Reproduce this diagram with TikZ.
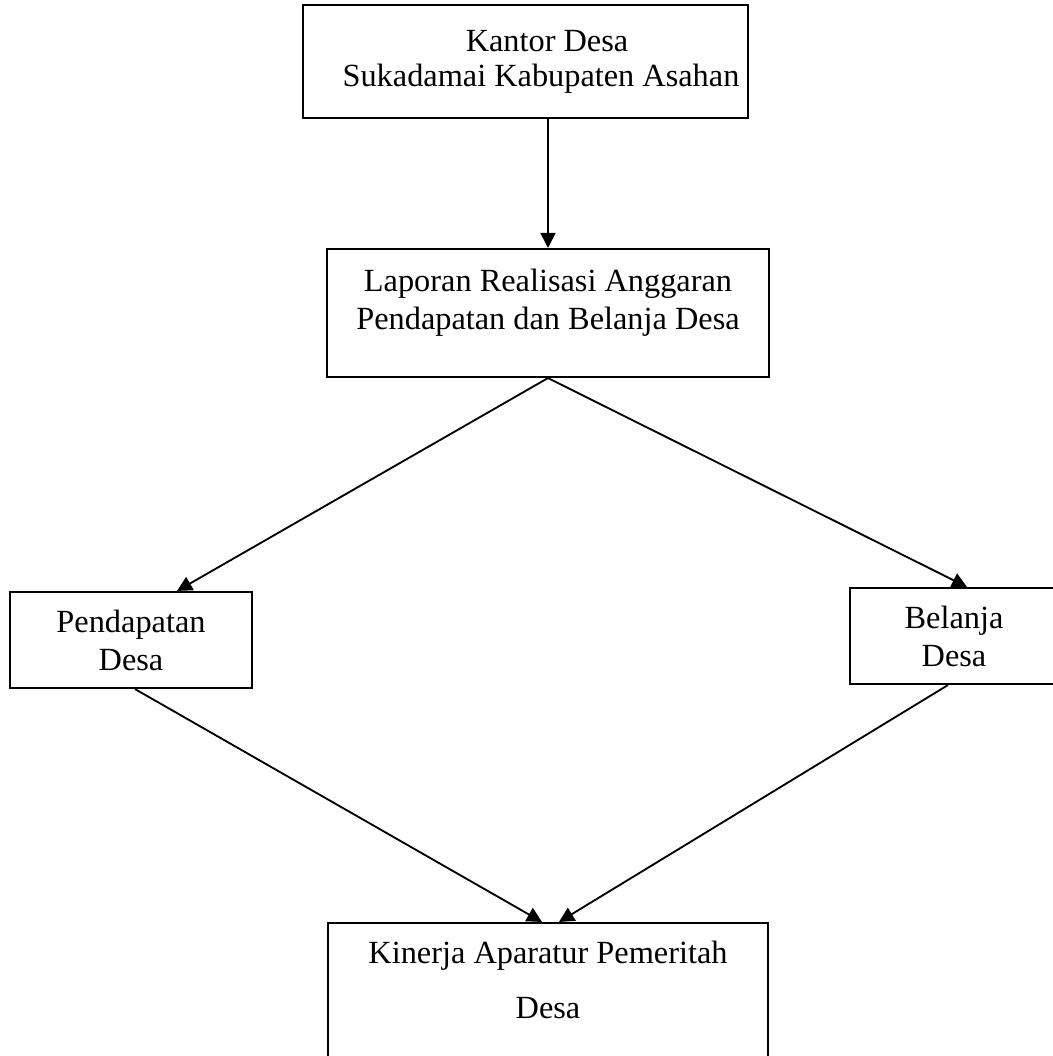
\documentclass[tikz,border=0pt]{standalone}
\usepackage{fontspec}
\setmainfont{Liberation Serif}
\usetikzlibrary{arrows.meta,calc}

\begin{document}
\begin{tikzpicture}[x=.02cm,y=-.02cm,
  box/.style={draw,line width=1.2pt,inner sep=0},
  txt/.style={anchor=north,inner sep=0,align=center,font=\fontsize{18.4}{21.5}\selectfont},
  arr/.style={-{Triangle[length=.3cm,width=.3cm]},line width=1.05pt}]
  \useasboundingbox (0,0) rectangle (1053,1056);
  \clip (0,0) rectangle (1053,1056);
  % boxes
  \node[box,minimum width=8.9cm,minimum height=2.26cm] (kantor) at (525.5,61.5) {};
  \node[box,minimum width=8.84cm,minimum height=2.56cm] (lra) at (548,313) {};
  \node[box,minimum width=4.84cm,minimum height=1.92cm] (pend) at (131,640) {};
  \node[box,minimum width=4.12cm,minimum height=1.92cm] (bel) at (953,636) {};
  \node[box,minimum width=8.8cm,minimum height=2.8cm] (kin) at (548,993) {};
  % texts
  \node[txt,font=\fontsize{18.4}{20}\selectfont] (kantortxt) at (541,30) {\hspace*{.24cm}Kantor Desa\\Sukadamai Kabupaten Asahan};
  \node[txt] (lratxt) at (548,269) {Laporan Realisasi Anggaran\\Pendapatan dan Belanja Desa};
  \node[txt] (pendtxt) at (131,610) {Pendapatan\\Desa};
  \node[txt] (beltxt) at (954,606) {Belanja\\Desa};
  \node[txt,font=\fontsize{18.4}{31}\selectfont] (kintxt) at (548,941) {Kinerja Aparatur Pemeritah\\Desa};
  % arrows
  \draw[arr] (kantor.south -| lra.north) -- (lra.north);
  \draw[arr] (lra.south) -- ($(pend.north)+(46,0)$);
  \draw[arr] (lra.south) -- ($(bel.north)+(14,0)$);
  \draw[arr] ($(pend.south)+(4,0)$) -- ($(kin.north)+(-6,0)$);
  \draw[arr] ($(bel.south)+(-5,0)$) -- ($(kin.north)+(11,0)$);
\end{tikzpicture}
\end{document}
